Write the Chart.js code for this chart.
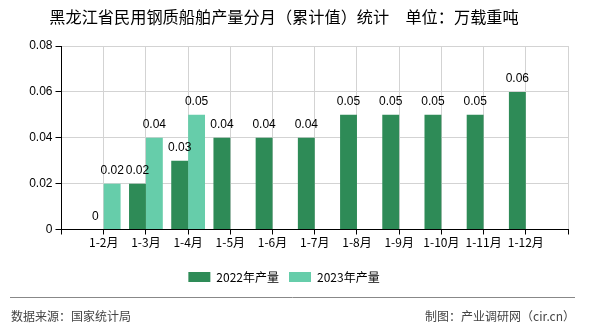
<!DOCTYPE html>
<html lang="zh-CN">
<head>
  <meta charset="UTF-8" />
  <title>黑龙江省民用钢质船舶产量分月（累计值）统计</title>
  <script src="https://cdn.jsdelivr.net/npm/chart.js"></script>
  <style>
    html, body {
      margin: 0;
      padding: 0;
      background: #ffffff;
    }
    .wrap {
      width: 590px;
      height: 330px;
      position: relative;
    }
  </style>
</head>
<body>
  <div class="wrap">
    <canvas id="grafico"></canvas>
  </div>

  <script>
    // dados
    const meses = ['1-2月', '1-3月', '1-4月', '1-5月', '1-6月', '1-7月', '1-8月', '1-9月', '1-10月', '1-11月', '1-12月'];
    const producao2022 = [0, 0.02, 0.03, 0.04, 0.04, 0.04, 0.05, 0.05, 0.05, 0.05, 0.06];
    const producao2023 = [0.02, 0.04, 0.05, null, null, null, null, null, null, null, null];
    const ticksY = [0, 0.02, 0.04, 0.06, 0.08];

    const fonteCJK = "'Noto Sans CJK SC', 'Liberation Sans', sans-serif";
    const fonteNum = "'Liberation Sans', 'Noto Sans CJK SC', sans-serif";

    // uma posição vazia em cada ponta, como no original
    const rotulos = [''].concat(meses, ['']);
    const pad = arr => [null].concat(arr, [null]);

    const rotulosBarras = {
      id: 'rotulosBarras',
      afterDatasetsDraw(chart) {
        const ctx = chart.ctx;
        ctx.save();
        ctx.font = '12px ' + fonteNum;
        ctx.fillStyle = '#000';
        ctx.textAlign = 'center';
        ctx.textBaseline = 'middle';
        chart.data.datasets.forEach((ds, i) => {
          const meta = chart.getDatasetMeta(i);
          meta.data.forEach((bar, j) => {
            const v = ds.data[j];
            if (v === null || v === undefined) return;
            ctx.fillText(v === 0 ? '0' : v.toFixed(2), bar.x, bar.y - 13);
          });
        });
        ctx.restore();
      }
    };

    const rodape = {
      id: 'rodape',
      afterDraw(chart) {
        const ctx = chart.ctx;
        ctx.save();
        ctx.strokeStyle = '#888';
        ctx.lineWidth = 1;
        ctx.beginPath();
        ctx.moveTo(10, 297.5);
        ctx.lineTo(575, 297.5);
        ctx.stroke();
        ctx.font = '12px ' + fonteCJK;
        ctx.fillStyle = '#444';
        ctx.textBaseline = 'middle';
        ctx.textAlign = 'left';
        ctx.fillText('数据来源：国家统计局', 11, 316);
        ctx.textAlign = 'right';
        ctx.fillText('制图：产业调研网（cir.cn）', 575, 316);
        ctx.restore();
      }
    };

    new Chart(document.getElementById('grafico').getContext('2d'), {
      type: 'bar',
      data: {
        labels: rotulos,
        datasets: [
          {
            label: '2022年产量',
            data: pad(producao2022),
            backgroundColor: '#2E8B57',
            categoryPercentage: 0.8,
            barPercentage: 1.0
          },
          {
            label: '2023年产量',
            data: pad(producao2023),
            backgroundColor: '#66CDAA',
            categoryPercentage: 0.8,
            barPercentage: 1.0
          }
        ]
      },
      options: {
        responsive: true,
        maintainAspectRatio: false,
        animation: false,
        layout: {
          padding: { top: 0, left: 0, right: 22, bottom: 37 }
        },
        scales: {
          x: {
            offset: false,
            grid: {
              offset: false,
              color: '#d3d3d3',
              tickColor: '#000',
              tickLength: 5
            },
            border: { color: '#000' },
            ticks: {
              color: '#000',
              font: { family: fonteCJK, size: 12 },
              padding: 1,
              autoSkip: false,
              maxRotation: 0
            },
            afterFit(scale) { scale.height = 31.5; }
          },
          y: {
            min: 0,
            max: 0.08,
            grid: {
              color: '#d3d3d3',
              tickColor: '#000',
              tickLength: 6
            },
            border: { color: '#000' },
            afterBuildTicks(scale) {
              scale.ticks = ticksY.map(v => ({ value: v }));
            },
            ticks: {
              color: '#000',
              font: { family: fonteNum, size: 12 },
              padding: 3,
              callback: v => v === 0 ? '0' : Number(v).toFixed(2)
            },
            afterFit(scale) { scale.width = 61.5; }
          }
        },
        plugins: {
          title: {
            display: true,
            text: '黑龙江省民用钢质船舶产量分月（累计值）统计　单位：万载重吨',
            color: '#000',
            font: { family: fonteCJK, size: 16.2, weight: 'normal' },
            padding: { top: 7.3, bottom: 19.3 }
          },
          legend: {
            position: 'bottom',
            labels: {
              boxWidth: 22,
              boxHeight: 10,
              padding: 10,
              color: '#000',
              font: { family: fonteCJK, size: 12 }
            }
          },
          tooltip: { enabled: false }
        }
      },
      plugins: [rotulosBarras, rodape]
    });
  </script>
</body>
</html>
